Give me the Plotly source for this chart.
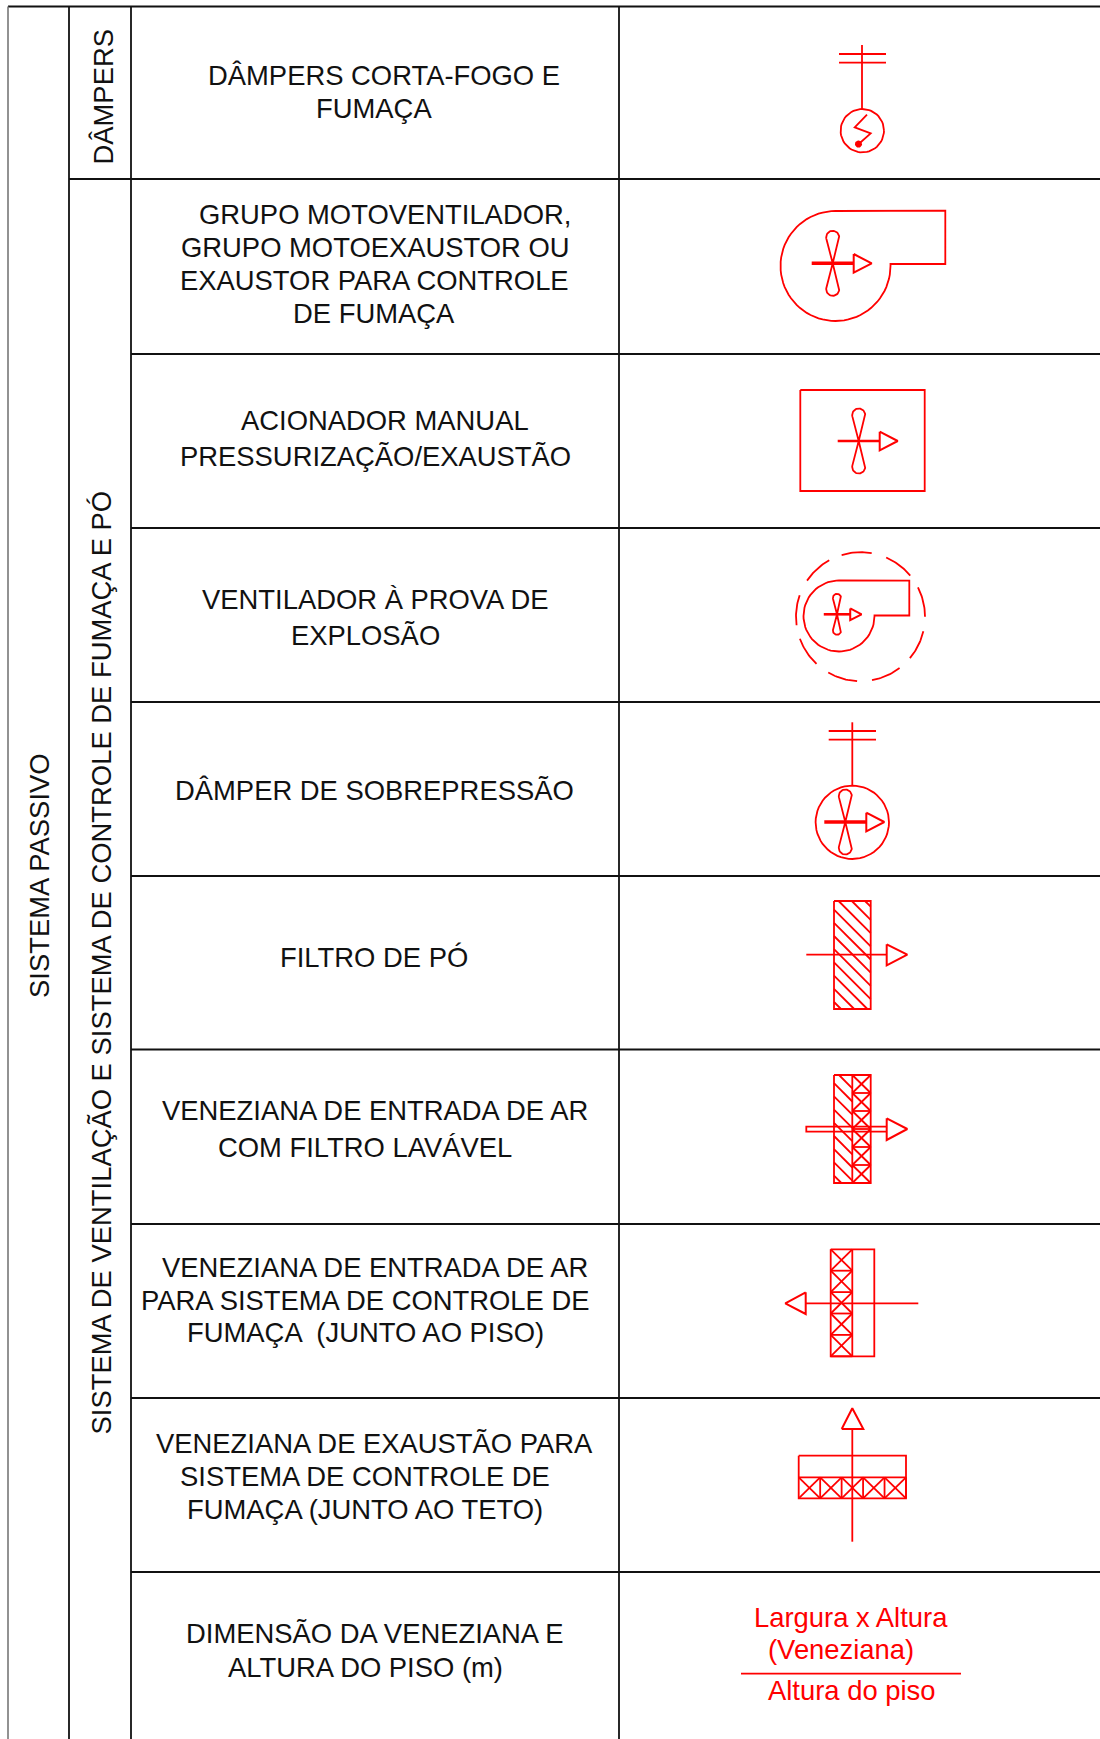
import math
import plotly.graph_objects as go

# ---- table content ----
GROUP_OUTER = "SISTEMA PASSIVO"
GROUP_DAMPERS = "DÂMPERS"
GROUP_VENT = "SISTEMA DE VENTILAÇÃO E SISTEMA DE CONTROLE DE FUMAÇA E PÓ"
ROW_LINES = [179, 354, 528, 702, 876, 1049.5, 1224, 1398, 1572]
COL_LINES = [8, 69, 131, 619]
ROW_TEXT = [
    [("DÂMPERS CORTA-FOGO E", 384, 75), ("FUMAÇA", 374, 108.5)],
    [("GRUPO MOTOVENTILADOR,", 385, 214.5), ("GRUPO MOTOEXAUSTOR OU", 375, 247.5),
     ("EXAUSTOR PARA CONTROLE", 374, 280.5), ("DE FUMAÇA", 374, 313.5)],
    [("ACIONADOR MANUAL", 385, 420.5), ("PRESSURIZAÇÃO/EXAUSTÃO", 375, 456.5)],
    [("VENTILADOR À PROVA DE", 375, 599), ("EXPLOSÃO", 365, 635)],
    [("DÂMPER DE SOBREPRESSÃO", 374, 790.5)],
    [("FILTRO DE PÓ", 374, 957.5)],
    [("VENEZIANA DE ENTRADA DE AR", 375, 1110.5), ("COM FILTRO LAVÁVEL", 365, 1147.5)],
    [("VENEZIANA DE ENTRADA DE AR", 375, 1267.5), ("PARA SISTEMA DE CONTROLE DE", 365, 1300.5),
     ("FUMAÇA  (JUNTO AO PISO)", 365, 1332.5)],
    [("VENEZIANA DE EXAUSTÃO PARA", 374, 1443.5), ("SISTEMA DE CONTROLE DE", 365, 1476.5),
     ("FUMAÇA (JUNTO AO TETO)", 365, 1509.5)],
    [("DIMENSÃO DA VENEZIANA E", 374, 1633.5), ("ALTURA DO PISO (m)", 365, 1667.5)],
]
RED_TEXT = [("Largura x Altura", 851, 1617.5), ("(Veneziana)", 841, 1649.5), ("Altura do piso", 852, 1690.5)]

W, H = 1100, 1739
BLACK, RED = "#111111", "#ff0000"
FONT = "Liberation Sans, Arial, sans-serif"
TEXT_SIZE = 27.4
fig = go.Figure()


def path(points, color=RED, width=1.8, fill=None):
    xs = [p[0] for p in points]
    ys = [p[1] for p in points]
    fig.add_trace(go.Scatter(x=xs, y=ys, mode="lines", hoverinfo="skip", showlegend=False,
                             line=dict(color=color, width=width),
                             fill="toself" if fill else None, fillcolor=fill))


def arc(cx, cy, r, a0, a1, n=60):
    return [(cx + r * math.cos(math.radians(a0 + (a1 - a0) * i / n)),
             cy - r * math.sin(math.radians(a0 + (a1 - a0) * i / n))) for i in range(n + 1)]


def rect(x0, y0, x1, y1):
    path([(x0, y0), (x1, y0), (x1, y1), (x0, y1), (x0, y0)])


def blade(cx, cy, length, r, sign):
    d = length - r
    a = math.degrees(math.asin(r / d))
    pts = [(cx, cy)]
    for i in range(31):
        t = math.radians(-a + (180 + 2 * a) * i / 30)
        pts.append((cx + r * math.cos(t), cy - sign * (d + r * math.sin(t))))
    return pts + [(cx, cy)]


def fan(cx, cy, s=1.0, shaft=3.0):
    for sign in (1, -1):
        path(blade(cx, cy, 32.5 * s, 6.5 * s, sign))
    path([(cx - 21 * s, cy), (cx + 21 * s, cy)], width=shaft)
    path([(cx + 21 * s, cy - 9.3 * s), (cx + 21 * s, cy + 9.3 * s), (cx + 39 * s, cy), (cx + 21 * s, cy - 9.3 * s)], width=2)


def blower(cx, cy, r, x_right, y_top, y_low):
    pts = arc(cx, cy, r, 0, -270)
    path(pts + [(x_right, y_top), (x_right, y_low), (cx + r, y_low), (cx + r, cy)])


def hatch(x0, y0, x1, y1, step, first):
    c = first
    while c < (y1 - y0):
        # line y - y0 = (x - x0) + c clipped to the box
        xa = x0 if c >= 0 else x0 - c
        ya = y0 + c if c >= 0 else y0
        xb = min(x1, x0 + (y1 - y0) - c)
        yb = y0 + c + (xb - x0)
        if xa < x1 and ya < y1:
            path([(xa, ya), (xb, yb)], width=1.8)
        c += step


def crosses(x0, y0, x1, y1, n, vertical=True):
    for i in range(n):
        if vertical:
            a, b = y0 + (y1 - y0) * i / n, y0 + (y1 - y0) * (i + 1) / n
            path([(x0, a), (x1, b)])
            path([(x1, a), (x0, b)])
            path([(x0, b), (x1, b)])
        else:
            a, b = x0 + (x1 - x0) * i / n, x0 + (x1 - x0) * (i + 1) / n
            path([(a, y0), (b, y1)])
            path([(a, y1), (b, y0)])
            path([(b, y0), (b, y1)])


def text(s, x, y, size=TEXT_SIZE, color=BLACK, angle=0):
    fig.add_annotation(x=x, y=y, xref="x", yref="y", text=s, showarrow=False, textangle=angle,
                       xanchor="center", yanchor="middle",
                       font=dict(family=FONT, size=size, color=color))


# ---- grid ----
c0, c1, c2, c3 = COL_LINES
path([(c0, 6.5), (W, 6.5)], color=BLACK, width=1.8)
path([(c0, 6.5), (c0, H)], color="#777777", width=1.6)
path([(c1, 6.5), (c1, H)], color=BLACK, width=1.8)
path([(c2, 6.5), (c2, H)], color=BLACK, width=1.8)
path([(c3, 6.5), (c3, H)], color=BLACK, width=1.8)
for i, y in enumerate(ROW_LINES):
    path([(c1 if i == 0 else c2, y), (W, y)], color=BLACK, width=1.8)

# ---- text ----
text(GROUP_OUTER, 39, 876, angle=-90)
text(GROUP_VENT, 100.5, 963, angle=-90)
text(GROUP_DAMPERS, 102.5, 97, angle=-90)
for row in ROW_TEXT:
    for s, x, y in row:
        text(s, x, y)
for s, x, y in RED_TEXT:
    text(s, x, y, color=RED)
path([(741, 1673.7), (961, 1673.7)])

# ---- symbols ----
# damper
path([(862, 45), (862, 109)])
path([(839, 54), (886, 54)])
path([(839, 62.7), (886, 62.7)])
path(arc(862.3, 130.7, 21.7, 0, 360))
path([(867, 114.7), (854.7, 127.3), (870.7, 133.3), (858.7, 144)])
path(arc(858.5, 144, 2.6, 0, 360), width=2, fill=RED)

# fan
blower(835.5, 266, 55, 945.3, 210.7, 264)
fan(832.7, 263.3, shaft=3.4)

# manual trigger
rect(800.3, 390, 924.7, 491)
fan(858.7, 441, shaft=2.6)

# explosion proof
blower(839, 616, 35.5, 909.3, 580.7, 615.5)
fan(837, 614.3, s=0.63, shaft=2.6)
for a0 in (80, 39.5, 0, -40, -79.7, -120, -160, -199.4, -241):
    path(arc(860.5, 616.7, 64.5, a0 + 27, a0, n=16))

# overpressure damper
path([(852.3, 722.3), (852.3, 786)])
path([(828.7, 731), (876, 731)])
path([(828.7, 739.7), (876, 739.7)])
path(arc(852.3, 822.3, 36.7, 0, 360))
fan(845.3, 822, shaft=3.6)

# dust filter
rect(834, 901, 870.7, 1009)
hatch(834, 901, 870.7, 1009, 13.2, -31)
path([(806.3, 954.7), (886.7, 954.7)])
path([(886.7, 944.3), (886.7, 965.3), (907.3, 954.7), (886.7, 944.3)], width=2)

# intake louvre with filter
rect(834, 1075, 870.7, 1183)
path([(852.3, 1075), (852.3, 1183)])
hatch(834, 1075, 852.3, 1183, 13.2, -5)
crosses(852.3, 1075, 870.7, 1183, 6)
path([(886.7, 1126.7), (806.3, 1126.7), (806.3, 1131.7), (886.7, 1131.7)])
path([(886.7, 1118.3), (886.7, 1140), (907.3, 1129), (886.7, 1118.3)], width=2)

# floor louvre
rect(830.7, 1249.3, 874.3, 1356.3)
crosses(830.7, 1249.3, 852.3, 1356.3, 5)
path([(852.3, 1249.3), (852.3, 1356.3)])
path([(805.7, 1303.3), (918.3, 1303.3)])
path([(805.7, 1292.3), (805.7, 1314), (785.3, 1303.3), (805.7, 1292.3)], width=2)

# ceiling louvre
rect(798.7, 1455.7, 906, 1498.3)
crosses(798.7, 1477.3, 906, 1498.3, 5, vertical=False)
path([(798.7, 1477.3), (906, 1477.3)])
path([(852.3, 1429), (852.3, 1541.7)])
path([(841.7, 1429), (863.3, 1429), (852.3, 1408.3), (841.7, 1429)], width=2)

fig.update_layout(width=W, height=H, margin=dict(l=0, r=0, t=0, b=0),
                  paper_bgcolor="white", plot_bgcolor="white", showlegend=False,
                  xaxis=dict(range=[0, W], visible=False, fixedrange=True),
                  yaxis=dict(range=[H, 0], visible=False, fixedrange=True))
fig.write_html("out.html", config={"displayModeBar": False},
               post_script="document.body.style.margin='0';document.body.style.overflow='hidden';")
